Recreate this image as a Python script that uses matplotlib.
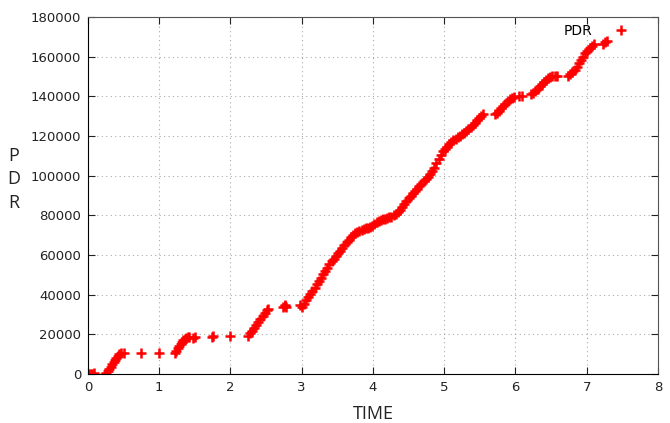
import matplotlib.pyplot as plt

# time values (x) and PDR values (y)
time = [0.00, 0.02, 0.04, 0.06, 0.08,
        0.24, 0.26, 0.28, 0.30, 0.32, 0.34, 0.36, 0.38, 0.40, 0.42, 0.44, 0.46, 0.50,
        0.75, 1.00,
        1.22, 1.24, 1.26, 1.28, 1.30, 1.32, 1.34, 1.36, 1.38, 1.40, 1.42,
        1.48, 1.50, 1.74, 1.76, 2.00,
        2.24, 2.27, 2.30, 2.33, 2.36, 2.39, 2.42, 2.45, 2.48, 2.51, 2.53,
        2.74, 2.76, 2.77, 2.78, 2.97,
        3.00, 3.03, 3.06, 3.09, 3.12, 3.15, 3.18, 3.21, 3.24, 3.27, 3.30, 3.33, 3.36, 3.39,
        3.42, 3.45, 3.48, 3.51, 3.54, 3.57, 3.60, 3.63, 3.66, 3.69, 3.72, 3.75, 3.78, 3.81,
        3.84, 3.87, 3.90, 3.93, 3.96, 3.99, 4.02, 4.05, 4.08, 4.11, 4.14, 4.17, 4.20, 4.23,
        4.26, 4.29, 4.32, 4.35, 4.38, 4.41, 4.44, 4.47, 4.50, 4.53, 4.56, 4.59, 4.62, 4.65,
        4.68, 4.71, 4.74, 4.77, 4.80, 4.83, 4.86, 4.89, 4.92, 4.95, 4.98, 5.01, 5.04, 5.07,
        5.10, 5.13, 5.16, 5.19, 5.22, 5.25, 5.28, 5.31, 5.34, 5.37, 5.40, 5.43, 5.46, 5.49,
        5.52, 5.55,
        5.71, 5.74, 5.77, 5.80, 5.83, 5.86, 5.89, 5.92, 5.95, 5.98, 6.05, 6.09,
        6.22, 6.25, 6.28, 6.31, 6.34, 6.37, 6.40, 6.43, 6.46, 6.49, 6.52, 6.55, 6.59,
        6.74, 6.77, 6.80, 6.83, 6.86, 6.89, 6.92, 6.95, 6.98, 7.01, 7.04, 7.07, 7.10,
        7.23, 7.26, 7.28]
pdr = [0, 0, 100, 200, 300,
       0, 600, 1500, 2600, 3700, 4900, 6000, 7200, 8300, 9300, 10200, 10600, 10700,
       10600, 10700,
       10800, 11800, 12900, 14000, 15000, 16000, 16900, 17700, 18300, 18700, 18800,
       18400, 18600, 18800, 19000, 19400,
       19200, 20500, 21800, 23300, 24800, 26300, 27800, 29300, 30800, 32200, 33000,
       33800, 34500, 35000, 33600, 34700,
       34000, 35500, 37100, 38800, 40500, 42000, 43500, 45200, 46800, 48500, 50200, 51900, 53600, 55300,
       56900, 58200, 59500, 60800, 62200, 63600, 65100, 66500, 67800, 68900, 70000, 71000, 71800, 72300,
       72700, 73100, 73400, 73800, 74200, 74700, 75500, 76400, 77100, 77600, 78000, 78300, 78600, 79000,
       79400, 80000, 80800, 81700, 82700, 84000, 85600, 87300, 88800, 90000, 91200, 92300, 93400, 94600,
       95800, 97100, 98300, 99500, 100800, 102200, 104000, 106200, 108500, 110500, 112200, 113500, 114700, 115800,
       116900, 117800, 118600, 119300, 120000, 120800, 121700, 122600, 123600, 124600, 125700, 126800, 128000, 129100,
       130200, 131000,
       131200, 131700, 132800, 133900, 135000, 136300, 137500, 138500, 139200, 139700, 140000, 140100,
       141000, 141600, 142500, 143600, 145000, 146300, 147300, 148200, 149000, 149800, 150200, 150500, 150300,
       150500, 151200, 152200, 153500, 155000, 156600, 158300, 160000, 161600, 163000, 164300, 165500, 166300,
       166500, 167300, 168000]

plt.figure(figsize=(6.7, 4.23), dpi=100)
ax = plt.axes([0.1313, 0.1158, 0.8507, 0.844])
ax.plot(time, pdr, linestyle='none', marker='+', color='red', markersize=6.5, markeredgewidth=1.8, label='PDR')

ax.set_xlim(0, 8)
ax.set_ylim(0, 180000)
ax.set_xticks(range(0, 9))
ax.set_yticks(range(0, 180001, 20000))
ax.grid(True, linestyle=(0, (1, 3)), color='#aaaaaa', linewidth=0.8)
ax.tick_params(direction='in', top=True, right=True, length=5, labelsize=9.5, colors='#222222',
               pad=5)
for side in ['left', 'bottom']:
    ax.spines[side].set_color('black')
for side in ['top', 'right']:
    ax.spines[side].set_color('#555555')

ax.set_xlabel('TIME', fontsize=13, family='Open Sans', color='#222222', labelpad=8)
ax.set_ylabel('P\nD\nR', fontsize=13, family='Open Sans', color='#222222', rotation=0,
              va='center', ha='center', linespacing=1.4)
ax.yaxis.set_label_coords(-0.13, 0.545)

ax.legend(loc='upper right', bbox_to_anchor=(0.97, 1.015), frameon=False, markerfirst=False,
          numpoints=1, handlelength=1.0, handletextpad=1.6,
          prop={'family': 'DejaVu Sans', 'size': 10})

plt.savefig('out.png', dpi=100)
